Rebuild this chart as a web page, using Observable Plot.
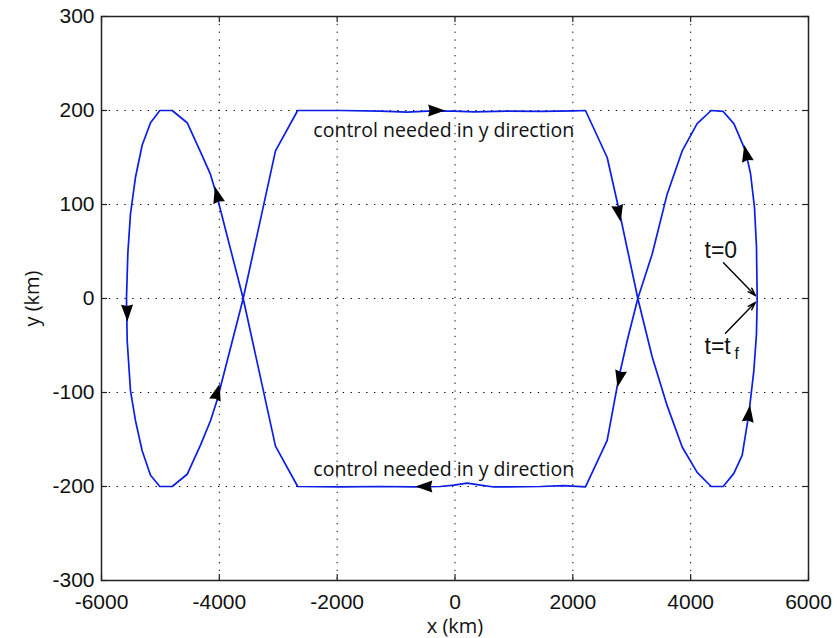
<!DOCTYPE html>
<html>
<head>
<meta charset="utf-8">
<script src="https://cdn.jsdelivr.net/npm/d3@7"></script>
<script src="https://cdn.jsdelivr.net/npm/@observablehq/plot@0.6"></script>
<style>
  html, body { margin: 0; padding: 0; background: #fff; }
  #chart { width: 839px; height: 638px; }
</style>
</head>
<body>
<div id="chart"></div>
<script>
// ---- data ----
const xTicks = [-6000, -4000, -2000, 0, 2000, 4000, 6000];
const yTicks = [-300, -200, -100, 0, 100, 200, 300];

// trajectory (km), starting at t=0 on the right and returning there at t=tf
const pathX = [5129, 5117, 5083, 5016, 4931, 4733, 4552, 4348, 4110, 3856, 3601, 3346, 3103, 2922, 2781, 2583, 2215,
  1847, 1451, 659, 433, 207, -20, -246, -699, -1265, -1944, -2670,
  -3047, -3595, -4037, -4150, -4320, -4546, -4800, -5010, -5168, -5310, -5423, -5508, -5553, -5576,
  -5564, -5508, -5423, -5310, -5168, -5010, -4800, -4546, -4320, -4150, -4037, -3595, -3047, -2670,
  -1944, -1265, -812, -472, -20, 319, 886, 1451, 2017, 2215,
  2583, 2781, 3103, 3346, 3601, 3856, 4110, 4348, 4552, 4733, 4874, 4987, 5072, 5117, 5129];
const pathY = [0, 55, 97, 133, 157, 186, 199, 200, 186, 157, 111, 47, 0, -45, -84, -151, -200.5,
  -199, -200, -200.5, -198.5, -196.5, -198.5, -200, -200.5, -200, -200.5, -200,
  -157, 0, 108, 132, 156, 187, 200, 200, 187, 163, 129, 90, 48, 0,
  -45, -98, -130, -162, -188, -200, -200, -187, -156, -130, -108, 0, 157, 200,
  200, 199.3, 198.2, 199.3, 199.3, 198.5, 199.3, 199, 199.7, 200,
  150, 95, 0, -62, -114, -158, -185, -200, -200, -186, -167, -123, -77, -38, 0];

// direction arrowheads on the trajectory: centre and direction of travel (data units)
const arrowX  = [-320, 2780, 2790, 4987, 4942, -520, -5564, -4037, -4037];
const arrowY  = [200, 91, -85, -123, 154, -200, -15, 110, -100];
const arrowDX = [1, 320, -140, 198, -85, -1, 12, -450, 725];
const arrowDY = [0, -95, -40, 90, 24, 0, -45, 110, 156];

// annotations
const controlText = ["control needed in y direction", "control needed in y direction"];
const controlX = [-190, -190];
const controlY = [178, -182];
const tLabels = ["t=0", "t=t"];
const tLabelX = [4235, 4235];
const tLabelY = [51, -51];
const tArrowX1 = [4557, 4591], tArrowY1 = [38, -37];
const tArrowX2 = [5100, 5100], tArrowY2 = [3, -4];

// ---- layout ----
const W = 839, H = 638, mL = 101, mR = 31, mT = 16, mB = 58;
const PW = W - mL - mR, PH = H - mT - mB;
const kx = PW / (xTicks[xTicks.length - 1] - xTicks[0]);
const ky = PH / (yTicks[yTicks.length - 1] - yTicks[0]);

const path = pathX.map((x, i) => ({x, y: pathY[i]}));
const arrows = arrowX.map((x, i) => {
  const sx = arrowDX[i] * kx, sy = -arrowDY[i] * ky;
  return {x, y: arrowY[i], rot: Math.atan2(sx, -sy) * 180 / Math.PI};
});
const ctrl = controlText.map((t, i) => ({t, x: controlX[i], y: controlY[i]}));
const tl = tLabels.map((t, i) => ({t, x: tLabelX[i], y: tLabelY[i]}));
const ta = tArrowX1.map((x1, i) => ({x1, y1: tArrowY1[i], x2: tArrowX2[i], y2: tArrowY2[i]}));

const head = {
  draw(ctx) {
    ctx.moveTo(0, -9);
    ctx.lineTo(6, 8);
    ctx.lineTo(0, 6.5);
    ctx.lineTo(-6, 8);
    ctx.closePath();
  }
};

const gridStyle = {stroke: "black", strokeOpacity: 1, strokeWidth: 1, strokeDasharray: "1.3,6.5"};
const tickLen = 6;
const fmt = d => String(d);

const chart = Plot.plot({
  width: W, height: H,
  marginLeft: mL, marginRight: mR, marginTop: mT, marginBottom: mB,
  style: {fontFamily: "'Liberation Sans', Arial, sans-serif", fontSize: "21px", background: "#fff", color: "#111", overflow: "visible"},
  x: {domain: [xTicks[0], xTicks[xTicks.length - 1]]},
  y: {domain: [yTicks[0], yTicks[yTicks.length - 1]]},
  marks: [
    Plot.ruleX(xTicks.slice(1, -1), {...gridStyle}),
    Plot.ruleY(yTicks.slice(1, -1), {...gridStyle}),
    Plot.tickX(xTicks, {x: d => d, stroke: "#222", strokeWidth: 1.2, insetTop: PH - tickLen}),
    Plot.tickX(xTicks, {x: d => d, stroke: "#222", strokeWidth: 1.2, insetBottom: PH - tickLen}),
    Plot.tickY(yTicks, {y: d => d, stroke: "#222", strokeWidth: 1.2, insetRight: PW - tickLen}),
    Plot.tickY(yTicks, {y: d => d, stroke: "#222", strokeWidth: 1.2, insetLeft: PW - tickLen}),
    Plot.axisX({ticks: xTicks, tickSize: 0, tickPadding: 14, tickFormat: fmt, label: null, fontSize: 21}),
    Plot.axisY({ticks: yTicks, tickSize: 0, tickPadding: 7, tickFormat: fmt, label: null, fontSize: 21}),
    Plot.frame({stroke: "#222", strokeWidth: 1.5}),
    Plot.line(path, {x: "x", y: "y", stroke: "#0a1ee8", strokeWidth: 1.7}),
    Plot.dot(arrows, {x: "x", y: "y", rotate: "rot", symbol: head, fill: "black", stroke: "none", r: 5}),
    Plot.text(ctrl, {x: "x", y: "y", text: "t", fontFamily: "'Open Sans', sans-serif", fontSize: 19.5, fill: "#111"}),
    Plot.text(tl, {x: "x", y: "y", text: "t", textAnchor: "start", fontSize: 23, fill: "#111"}),
    Plot.text(tl.slice(1), {x: "x", y: "y", text: () => "f", textAnchor: "start", dx: 30, dy: 7, fontSize: 16, fill: "#111"}),
    Plot.arrow(ta, {x1: "x1", y1: "y1", x2: "x2", y2: "y2", stroke: "black", strokeWidth: 1.4, headLength: 9, headAngle: 35}),
    Plot.text(["y (km)"], {frameAnchor: "left", dx: -69, rotate: -90, textAnchor: "middle", lineAnchor: "middle", text: d => d, fontFamily: "'Open Sans', sans-serif", fontSize: 20, fill: "#111"}),
    Plot.text(["x (km)"], {frameAnchor: "bottom", dy: 46, textAnchor: "middle", lineAnchor: "middle", text: d => d, fontFamily: "'Open Sans', sans-serif", fontSize: 20, fill: "#111"})
  ]
});
document.getElementById("chart").appendChild(chart);
</script>
</body>
</html>
